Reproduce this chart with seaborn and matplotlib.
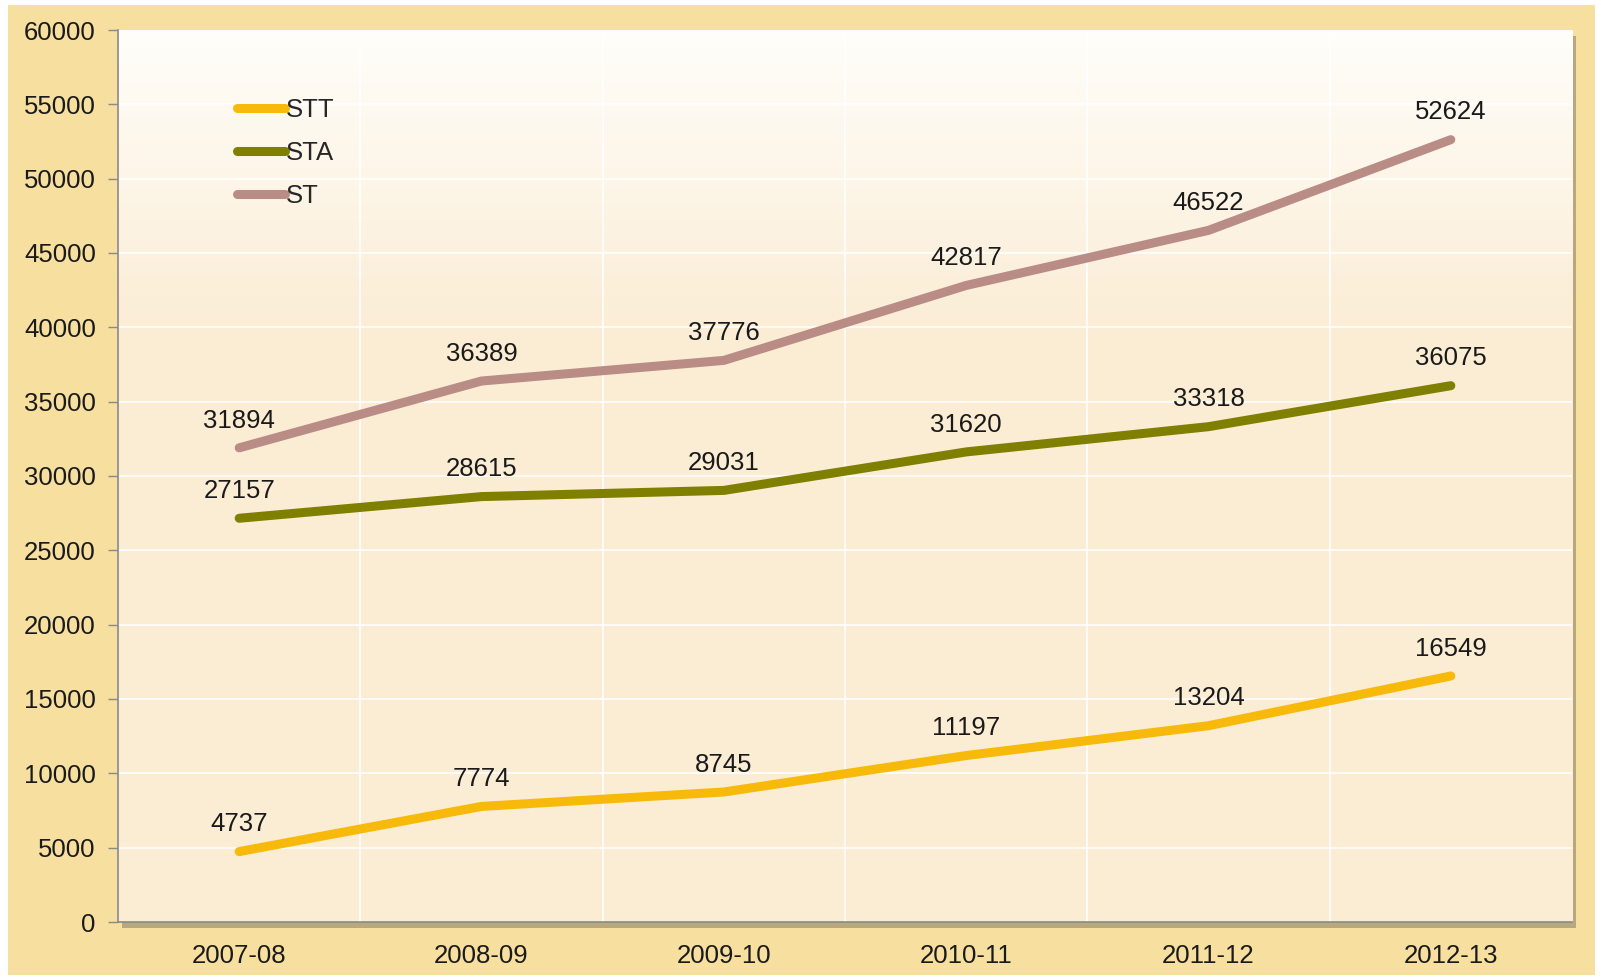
import numpy as np
import pandas as pd
import matplotlib
matplotlib.use("Agg")
import matplotlib.pyplot as plt
from matplotlib.patches import Rectangle
import seaborn as sns

# ── data ──────────────────────────────────────────────────────────────────────
years = ["2007-08", "2008-09", "2009-10", "2010-11", "2011-12", "2012-13"]
stt = [4737, 7774, 8745, 11197, 13204, 16549]
sta = [27157, 28615, 29031, 31620, 33318, 36075]
st = [31894, 36389, 37776, 42817, 46522, 52624]

series_names = ["STT", "STA", "ST"]
series_vals = [stt, sta, st]
COLORS = {"STT": "#F7BA0A", "STA": "#7F7F00", "ST": "#B98C86"}

df = pd.DataFrame({
    "year": np.tile(np.arange(len(years)), len(series_names)),
    "value": np.concatenate(series_vals),
    "series": np.repeat(series_names, len(years)),
})

# ── style ─────────────────────────────────────────────────────────────────────
sns.set_style("white")
plt.rcParams["font.family"] = ["Liberation Sans", "DejaVu Sans"]
plt.rcParams["font.size"] = 18

FS = 18.5
TXT = "#1a1a1a"
FIG_BG = "#F6DF9F"
LW = 6.5

fig = plt.figure(figsize=(16.01, 9.77), dpi=100)
fig.patch.set_facecolor("white")
# yellow frame (leaves thin white edge like the reference)
fig.patches.append(Rectangle((8 / 1601, 2 / 977), (1595 - 8) / 1601, (972 - 2) / 977,
                             transform=fig.transFigure, facecolor=FIG_BG,
                             edgecolor="none", zorder=-10))

L, R, T, B = 118, 1572, 30, 922
ax = fig.add_axes([L / 1601, 1 - B / 977, (R - L) / 1601, (B - T) / 977])

# drop shadow of plot area
fig.patches.append(Rectangle(((L + 4) / 1601, 1 - (B + 6) / 977), (R - L) / 1601, (B - T) / 977,
                             transform=fig.transFigure, facecolor="#8F8468",
                             alpha=0.6, edgecolor="none", zorder=-5))

ax.set_xlim(-0.5, len(years) - 0.5)
ax.set_ylim(0, 60000)

# gradient background
grad = np.linspace(0, 1, 256).reshape(-1, 1)
top_c = np.array([255, 254, 250]) / 255
mid_c = np.array([251, 236, 212]) / 255
w = np.clip(grad / 0.35, 0, 1)
img = top_c * (1 - w[..., None]) + mid_c * w[..., None]
img = img.reshape(256, 1, 3)
ax.imshow(img, extent=[-0.5, len(years) - 0.5, 0, 60000], aspect="auto",
          origin="upper", zorder=0)

# grid
for yv in range(5000, 60001, 5000):
    ax.axhline(yv, color="white", linewidth=1.2, zorder=1)
for xv in np.arange(0.5, len(years) - 0.5, 1):
    ax.axvline(xv, color="white", linewidth=1.2, zorder=1)

sns.lineplot(data=df, x="year", y="value", hue="series", hue_order=series_names,
             palette=COLORS, linewidth=LW, ax=ax, zorder=3,
             solid_capstyle="round", legend=True)

for name, vals in zip(series_names, series_vals):
    for i, v in enumerate(vals):
        ax.annotate(f"{v}", (i, v), xytext=(0, 11), textcoords="offset points",
                    ha="center", va="bottom", fontsize=FS, color=TXT, zorder=4)

# axes
ax.set_xticks(np.arange(len(years)))
ax.set_xticklabels(years)
ax.set_xticks(np.arange(-0.5, len(years), 1), minor=True)
ax.set_yticks(range(0, 60001, 5000))
ax.tick_params(axis="x", which="major", length=0, pad=16, labelsize=FS, labelcolor=TXT)
ax.tick_params(axis="x", which="minor", length=6, color="#8a8a8a", width=1)
ax.tick_params(axis="y", length=7, color="#8a8a8a", width=1, pad=9, labelsize=FS,
               labelcolor=TXT, left=True)
ax.set_xlabel("")
ax.set_ylabel("")
for s in ["top", "right"]:
    ax.spines[s].set_visible(False)
for s in ["left", "bottom"]:
    ax.spines[s].set_color("#8a8a8a")
    ax.spines[s].set_linewidth(1.2)

leg = ax.legend(loc="upper left", bbox_to_anchor=(0.066, 0.95), frameon=False,
                handlelength=1.85, handletextpad=0.05, labelspacing=0.75, fontsize=FS)
for line in leg.get_lines():
    line.set_linewidth(LW)
    line.set_solid_capstyle("round")

fig.savefig("out.png", dpi=100, facecolor=fig.get_facecolor())
